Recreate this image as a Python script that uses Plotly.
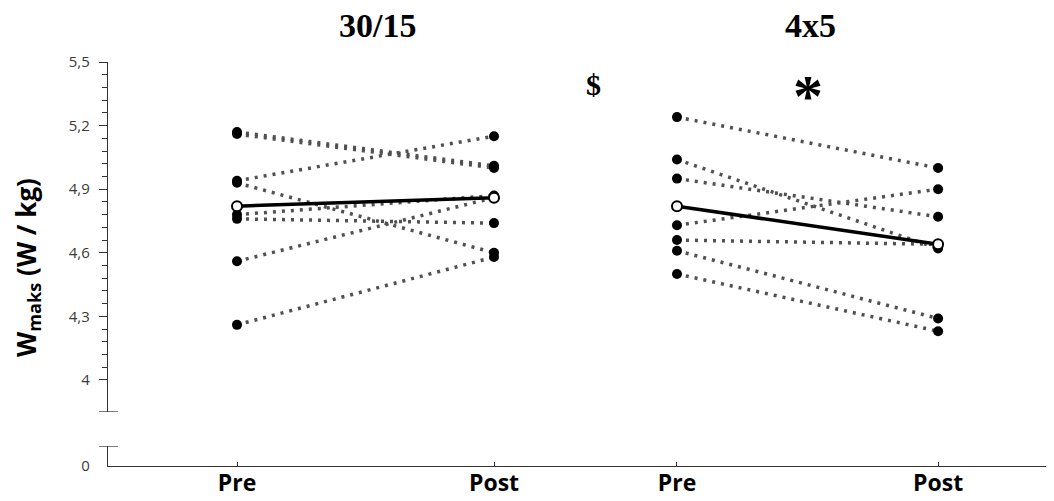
import plotly.graph_objects as go

# ---- data ----
group_names = ["30/15", "4x5"]
tick_labels = ["Pre", "Post", "Pre", "Post"]

pre_3015 = [5.17, 5.16, 4.94, 4.93, 4.78, 4.76, 4.56, 4.26]
post_3015 = [5.01, 5.00, 5.15, 4.60, 4.87, 4.74, 4.86, 4.58]
mean_3015 = [4.82, 4.86]

pre_4x5 = [5.24, 5.04, 4.95, 4.73, 4.66, 4.61, 4.50]
post_4x5 = [5.00, 4.62, 4.77, 4.90, 4.64, 4.29, 4.23]
mean_4x5 = [4.82, 4.64]

y_tickvals = [4.0, 4.3, 4.6, 4.9, 5.2, 5.5]
y_ticktext = ["4", "4,3", "4,6", "4,9", "5,2", "5,5"]

# ---- layout constants ----
XPOS = {"30/15": [1.0, 2.0], "4x5": [2.712, 3.728]}
X_RANGE = [0.498, 4.179]
Y_RANGE = [3.849, 5.5]
Y2_RANGE = [0.0, 0.0943]

LINE_COL = "#505050"
AX_COL = "#333333"

fig = go.Figure()

for name, pre, post in [("30/15", pre_3015, post_3015), ("4x5", pre_4x5, post_4x5)]:
    xs = XPOS[name]
    for a, b in zip(pre, post):
        fig.add_trace(go.Scatter(
            x=xs, y=[a, b], mode="lines",
            line=dict(color=LINE_COL, width=3.5, dash="3px,6px"),
            showlegend=False, hoverinfo="skip"))
    for a, b in zip(pre, post):
        fig.add_trace(go.Scatter(
            x=xs, y=[a, b], mode="markers",
            marker=dict(color="black", size=10),
            showlegend=False))

for name, m in [("30/15", mean_3015), ("4x5", mean_4x5)]:
    fig.add_trace(go.Scatter(
        x=XPOS[name], y=m, mode="lines+markers",
        line=dict(color="black", width=3.5),
        marker=dict(color="white", size=10, line=dict(color="black", width=2)),
        showlegend=False))

tickx = XPOS["30/15"] + XPOS["4x5"]

# page body has an 8px default margin: the figure is sized/positioned to compensate
fig.update_layout(
    width=1046, height=493,
    margin=dict(l=100, r=0, t=54, b=35, autoexpand=False),
    plot_bgcolor="white", paper_bgcolor="white",
    xaxis=dict(
        range=X_RANGE, anchor="y2", showgrid=False, zeroline=False, automargin=False,
        showline=True, linecolor=AX_COL, linewidth=1.3,
        tickvals=tickx, ticktext=tick_labels, ticks="inside", ticklen=4,
        tickcolor=AX_COL, tickwidth=1.3, ticklabelstandoff=-4,
        tickfont=dict(family="Open Sans", size=23, color="black", weight="bold"),
    ),
    yaxis=dict(
        domain=[0.1337, 1.0], range=Y_RANGE, anchor="x", automargin=False,
        showgrid=False, zeroline=False,
        showline=True, linecolor=AX_COL, linewidth=1.3,
        tickvals=y_tickvals, ticktext=y_ticktext, ticks="outside", ticklen=8,
        tickcolor=AX_COL, tickwidth=1.3, ticklabelstandoff=6,
        tickfont=dict(family="Open Sans", size=15, color="#3a3a3a"),
        minor=dict(tickvals=[v / 100 for v in range(400, 551, 6)], ticks="outside",
                   ticklen=5, tickcolor=AX_COL, tickwidth=1.3),
    ),
    yaxis2=dict(
        domain=[0.0, 0.0495], range=Y2_RANGE, anchor="x", automargin=False,
        showgrid=False, zeroline=False,
        showline=True, linecolor=AX_COL, linewidth=1.3,
        tickvals=[0], ticktext=["0"], ticks="", ticklabelstandoff=14,
        tickfont=dict(family="Open Sans", size=15, color="#3a3a3a"),
    ),
)

# axis-break caps
for yref, yv in [("y", Y_RANGE[0]), ("y2", Y2_RANGE[1])]:
    fig.add_shape(type="line", xref="paper", yref=yref,
                  x0=-0.0095, x1=0.0106, y0=yv, y1=yv,
                  line=dict(color=AX_COL, width=1.3))

# group titles
fig.add_annotation(text="<b>%s</b>" % group_names[0], xref="paper", yref="paper",
                   x=(377.5 - 108) / 946, y=(466 - 26) / 404, showarrow=False,
                   font=dict(family="Liberation Serif", size=34, color="black"),
                   xanchor="center", yanchor="middle")
fig.add_annotation(text="<b>%s</b>" % group_names[1], xref="paper", yref="paper",
                   x=(810 - 108) / 946, y=(466 - 26) / 404, showarrow=False,
                   font=dict(family="Liberation Serif", size=34, color="black"),
                   xanchor="center", yanchor="middle")
fig.add_annotation(text="<b>$</b>", xref="paper", yref="paper",
                   x=(593 - 108) / 946, y=(466 - 84) / 404, showarrow=False,
                   font=dict(family="Liberation Serif", size=30, color="black"),
                   xanchor="center", yanchor="middle")
fig.add_annotation(text="<b>*</b>", xref="paper", yref="paper",
                   x=(808 - 108) / 946, y=(466 - 96) / 404, showarrow=False,
                   font=dict(family="Liberation Serif", size=60, color="black"),
                   xanchor="center", yanchor="middle")

# y-axis title
fig.add_annotation(text="<b>W<sub>maks</sub> (W / kg)</b>", xref="paper", yref="paper",
                   x=(27 - 108) / 946, y=(466 - 268) / 404, showarrow=False,
                   textangle=-90,
                   font=dict(family="Open Sans", size=26, color="black"),
                   xanchor="center", yanchor="middle")

fig.write_html("out.html")
